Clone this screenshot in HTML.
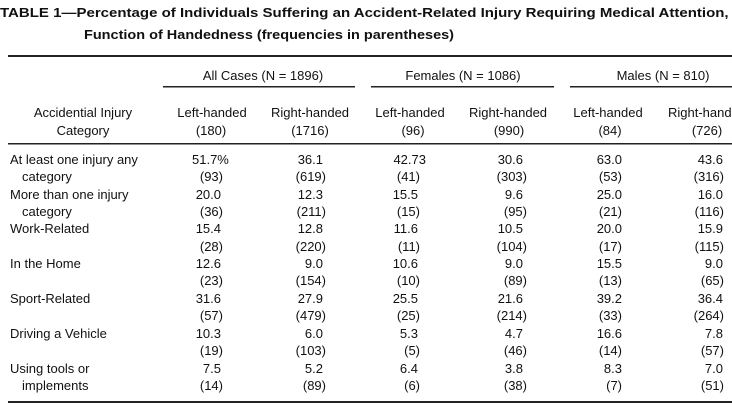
<!DOCTYPE html>
<html><head><meta charset="utf-8"><style>
html,body{margin:0;padding:0;background:#fff;width:732px;height:413px;overflow:hidden}
svg{display:block}
text{font-family:"Liberation Sans",Arial,sans-serif;font-size:13px;fill:#111}
.b{font-weight:bold}
.e{text-anchor:end}
.m{text-anchor:middle}
</style></head><body>
<svg width="732" height="413" viewBox="0 0 732 413">
<text class="b" x="0" y="17" textLength="762" lengthAdjust="spacingAndGlyphs">TABLE 1—Percentage of Individuals Suffering an Accident-Related Injury Requiring Medical Attention, as a</text>
<text class="b" x="84" y="39" textLength="370" lengthAdjust="spacingAndGlyphs">Function of Handedness (frequencies in parentheses)</text>
<rect x="8" y="55" width="724" height="2" fill="#222"/>
<text class="m" x="263" y="80">All Cases (N = 1896)</text>
<text class="m" x="463" y="80">Females (N = 1086)</text>
<text class="m" x="663" y="80">Males (N = 810)</text>
<rect x="163" y="86" width="192" height="1.5" fill="#222"/>
<rect x="371" y="86" width="183" height="1.5" fill="#222"/>
<rect x="570" y="86" width="162" height="1.5" fill="#222"/>
<text class="m" x="83" y="117">Accidential Injury</text>
<text class="m" x="83" y="135">Category</text>
<text class="m" x="212" y="117">Left-handed</text><text class="m" x="211" y="135">(180)</text>
<text class="m" x="310" y="117">Right-handed</text><text class="m" x="310" y="135">(1716)</text>
<text class="m" x="410" y="117">Left-handed</text><text class="m" x="413" y="135">(96)</text>
<text class="m" x="508" y="117">Right-handed</text><text class="m" x="509" y="135">(990)</text>
<text class="m" x="608" y="117">Left-handed</text><text class="m" x="610" y="135">(84)</text>
<text x="668" y="117">Right-handed</text><text class="m" x="707" y="135">(726)</text>
<rect x="8" y="143" width="724" height="1.5" fill="#222"/>
<text x="10" y="164">At least one injury any</text>
<text x="22" y="181">category</text>
<text x="10" y="199">More than one injury</text>
<text x="22" y="216">category</text>
<text x="10" y="233">Work-Related</text>
<text x="10" y="268">In the Home</text>
<text x="10" y="303">Sport-Related</text>
<text x="10" y="338">Driving a Vehicle</text>
<text x="10" y="373">Using tools or</text>
<text x="22" y="390">implements</text>
<!-- col1 -->
<text x="192" y="164">51.7%</text>
<text class="e" x="223" y="181">(93)</text>
<text class="e" x="221" y="199">20.0</text><text class="e" x="223" y="216">(36)</text>
<text class="e" x="221" y="233">15.4</text><text class="e" x="223" y="251">(28)</text>
<text class="e" x="221" y="268">12.6</text><text class="e" x="223" y="285">(23)</text>
<text class="e" x="221" y="303">31.6</text><text class="e" x="223" y="320">(57)</text>
<text class="e" x="221" y="338">10.3</text><text class="e" x="223" y="355">(19)</text>
<text class="e" x="221" y="373">7.5</text><text class="e" x="223" y="390">(14)</text>
<!-- col2 -->
<text class="e" x="323" y="164">36.1</text><text class="e" x="326" y="181">(619)</text>
<text class="e" x="323" y="199">12.3</text><text class="e" x="326" y="216">(211)</text>
<text class="e" x="323" y="233">12.8</text><text class="e" x="326" y="251">(220)</text>
<text class="e" x="323" y="268">9.0</text><text class="e" x="326" y="285">(154)</text>
<text class="e" x="323" y="303">27.9</text><text class="e" x="326" y="320">(479)</text>
<text class="e" x="323" y="338">6.0</text><text class="e" x="326" y="355">(103)</text>
<text class="e" x="323" y="373">5.2</text><text class="e" x="326" y="390">(89)</text>
<!-- col3 -->
<text class="e" x="426" y="164">42.73</text><text class="e" x="420" y="181">(41)</text>
<text class="e" x="418" y="199">15.5</text><text class="e" x="420" y="216">(15)</text>
<text class="e" x="418" y="233">11.6</text><text class="e" x="420" y="251">(11)</text>
<text class="e" x="418" y="268">10.6</text><text class="e" x="420" y="285">(10)</text>
<text class="e" x="418" y="303">25.5</text><text class="e" x="420" y="320">(25)</text>
<text class="e" x="418" y="338">5.3</text><text class="e" x="420" y="355">(5)</text>
<text class="e" x="418" y="373">6.4</text><text class="e" x="420" y="390">(6)</text>
<!-- col4 -->
<text class="e" x="523" y="164">30.6</text><text class="e" x="527" y="181">(303)</text>
<text class="e" x="523" y="199">9.6</text><text class="e" x="527" y="216">(95)</text>
<text class="e" x="523" y="233">10.5</text><text class="e" x="527" y="251">(104)</text>
<text class="e" x="523" y="268">9.0</text><text class="e" x="527" y="285">(89)</text>
<text class="e" x="523" y="303">21.6</text><text class="e" x="527" y="320">(214)</text>
<text class="e" x="523" y="338">4.7</text><text class="e" x="527" y="355">(46)</text>
<text class="e" x="523" y="373">3.8</text><text class="e" x="527" y="390">(38)</text>
<!-- col5 -->
<text class="e" x="622" y="164">63.0</text><text class="e" x="622" y="181">(53)</text>
<text class="e" x="622" y="199">25.0</text><text class="e" x="622" y="216">(21)</text>
<text class="e" x="622" y="233">20.0</text><text class="e" x="622" y="251">(17)</text>
<text class="e" x="622" y="268">15.5</text><text class="e" x="622" y="285">(13)</text>
<text class="e" x="622" y="303">39.2</text><text class="e" x="622" y="320">(33)</text>
<text class="e" x="622" y="338">16.6</text><text class="e" x="622" y="355">(14)</text>
<text class="e" x="622" y="373">8.3</text><text class="e" x="622" y="390">(7)</text>
<!-- col6 -->
<text class="e" x="723" y="164">43.6</text><text class="e" x="724" y="181">(316)</text>
<text class="e" x="723" y="199">16.0</text><text class="e" x="724" y="216">(116)</text>
<text class="e" x="723" y="233">15.9</text><text class="e" x="724" y="251">(115)</text>
<text class="e" x="723" y="268">9.0</text><text class="e" x="724" y="285">(65)</text>
<text class="e" x="723" y="303">36.4</text><text class="e" x="724" y="320">(264)</text>
<text class="e" x="723" y="338">7.8</text><text class="e" x="724" y="355">(57)</text>
<text class="e" x="723" y="373">7.0</text><text class="e" x="724" y="390">(51)</text>
<rect x="8" y="401" width="724" height="2" fill="#222"/>
</svg>
</body></html>
